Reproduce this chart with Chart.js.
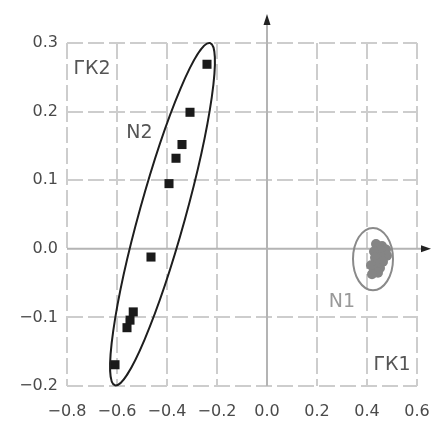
<!DOCTYPE html>
<html>
<head>
<meta charset="utf-8">
<script src="https://cdn.jsdelivr.net/npm/chart.js@4.4.1/dist/chart.umd.min.js"></script>
<style>
  html, body { margin: 0; padding: 0; background: #fff; }
  #wrap { width: 432px; height: 421px; }
</style>
</head>
<body>
<div id="wrap"><canvas id="chart"></canvas></div>
<script>
// group N2 (black squares)
const n2X = [-0.24, -0.308, -0.34, -0.364, -0.392, -0.464, -0.535, -0.548, -0.56, -0.608];
const n2Y = [0.269, 0.199, 0.152, 0.132, 0.095, -0.012, -0.092, -0.104, -0.115, -0.169];

// group N1 (grey cluster)
const n1X = [0.436, 0.46, 0.476, 0.452, 0.428, 0.48, 0.456, 0.432, 0.464, 0.44, 0.416, 0.452, 0.428, 0.444, 0.42];
const n1Y = [0.007, 0.004, -0.001, -0.003, -0.004, -0.010, -0.012, -0.013, -0.019, -0.022, -0.024, -0.028, -0.031, -0.035, -0.037];

// ellipses: N2 given by its two tips, N1 by centre and radii (data units)
const n2Tips = [[-0.228, 0.300], [-0.608, -0.199]];
const n1Centre = [0.424, -0.015];
const n1Radii = [0.08, 0.0455];

const xTicks = [-0.8, -0.6, -0.4, -0.2, 0.0, 0.2, 0.4, 0.6];
const yTicks = [-0.2, -0.1, 0.0, 0.1, 0.2, 0.3];

// text labels placed at data positions
const labels = [
    { text: 'ГК2', x: -0.70, y: 0.262, color: '#555' },
    { text: 'N2', x: -0.51, y: 0.168, color: '#555' },
    { text: 'N1', x: 0.30, y: -0.077, color: '#999' },
    { text: 'ГК1', x: 0.50, y: -0.170, color: '#555' }
];

function fmt(v) {
    if (Math.abs(v) < 1e-9) return '0.0';
    return v.toFixed(1).replace('-', '\u2212');
}

const extras = {
    id: 'extras',
    beforeDatasetsDraw(chart) {
        const ctx = chart.ctx, xs = chart.scales.x, ys = chart.scales.y;
        const x0 = xs.getPixelForValue(0), y0 = ys.getPixelForValue(0);
        const a = chart.chartArea;
        ctx.save();
        ctx.strokeStyle = '#b4b4b4';
        ctx.lineWidth = 2;
        ctx.beginPath();
        ctx.moveTo(x0, a.bottom); ctx.lineTo(x0, 20);
        ctx.moveTo(a.left, y0); ctx.lineTo(426, y0);
        ctx.stroke();
        ctx.fillStyle = '#222';
        ctx.beginPath();
        ctx.moveTo(x0, 14); ctx.lineTo(x0 - 3.5, 25); ctx.lineTo(x0 + 3.5, 25); ctx.closePath();
        ctx.fill();
        ctx.beginPath();
        ctx.moveTo(431, y0); ctx.lineTo(421, y0 - 3.5); ctx.lineTo(421, y0 + 3.5); ctx.closePath();
        ctx.fill();
        ctx.restore();
    },
    afterDatasetsDraw(chart) {
        const ctx = chart.ctx, xs = chart.scales.x, ys = chart.scales.y;
        ctx.save();
        // N2 ellipse
        const p1 = [xs.getPixelForValue(n2Tips[0][0]), ys.getPixelForValue(n2Tips[0][1])];
        const p2 = [xs.getPixelForValue(n2Tips[1][0]), ys.getPixelForValue(n2Tips[1][1])];
        const cx = (p1[0] + p2[0]) / 2, cy = (p1[1] + p2[1]) / 2;
        const len = Math.hypot(p1[0] - p2[0], p1[1] - p2[1]) / 2;
        const ang = Math.atan2(p1[1] - p2[1], p1[0] - p2[0]);
        ctx.strokeStyle = '#1e1e1e';
        ctx.lineWidth = 2;
        ctx.beginPath();
        ctx.ellipse(cx, cy, len, 23, ang, 0, Math.PI * 2);
        ctx.stroke();
        // N1 ellipse
        const c1x = xs.getPixelForValue(n1Centre[0]), c1y = ys.getPixelForValue(n1Centre[1]);
        const rx = Math.abs(xs.getPixelForValue(n1Centre[0] + n1Radii[0]) - c1x);
        const ry = Math.abs(ys.getPixelForValue(n1Centre[1] + n1Radii[1]) - c1y);
        ctx.strokeStyle = '#8a8a8a';
        ctx.beginPath();
        ctx.ellipse(c1x, c1y, rx, ry, 0, 0, Math.PI * 2);
        ctx.stroke();
        // text labels
        ctx.font = '19px "DejaVu Sans"';
        ctx.textAlign = 'center';
        ctx.textBaseline = 'middle';
        labels.forEach(l => {
            const px = xs.getPixelForValue(l.x), py = ys.getPixelForValue(l.y);
            const w = ctx.measureText(l.text).width;
            ctx.fillStyle = '#fff';
            ctx.fillRect(px - w / 2 - 2, py - 10, w + 4, 20);
            ctx.fillStyle = l.color;
            ctx.fillText(l.text, px, py);
        });
        ctx.restore();
    }
};

const gridOpts = {
    color: (c) => (c.tick && Math.abs(c.tick.value) < 1e-9) ? 'rgba(0,0,0,0)' : '#cdcdcd',
    lineWidth: 2,
    drawTicks: false
};

new Chart(document.getElementById('chart'), {
    type: 'scatter',
    data: {
        datasets: [
            {
                label: 'N1',
                data: n1X.map((x, i) => ({ x: x, y: n1Y[i] })),
                backgroundColor: '#858585',
                borderWidth: 0,
                pointStyle: 'circle',
                pointRadius: 5
            },
            {
                label: 'N2',
                data: n2X.map((x, i) => ({ x: x, y: n2Y[i] })),
                backgroundColor: '#1a1a1a',
                borderWidth: 0,
                pointStyle: 'rect',
                pointRadius: 6.4
            }
        ]
    },
    options: {
        responsive: true,
        maintainAspectRatio: false,
        animation: false,
        events: [],
        layout: { padding: { top: 43, right: 15, left: 0, bottom: 0 } },
        plugins: { legend: { display: false }, tooltip: { enabled: false } },
        scales: {
            x: {
                type: 'linear',
                min: xTicks[0],
                max: xTicks[xTicks.length - 1],
                afterBuildTicks: (s) => { s.ticks = xTicks.map(v => ({ value: v })); },
                afterFit: (s) => { s.height = 35; s.paddingLeft = 0; s.paddingRight = 0; },
                grid: gridOpts,
                border: { display: false, dash: [16, 5] },
                ticks: {
                    padding: 16,
                    color: '#4a4a4a',
                    font: { family: 'DejaVu Sans', size: 16 },
                    maxRotation: 0,
                    callback: (v) => fmt(v)
                }
            },
            y: {
                type: 'linear',
                min: yTicks[0],
                max: yTicks[yTicks.length - 1],
                afterBuildTicks: (s) => { s.ticks = yTicks.map(v => ({ value: v })); },
                afterFit: (s) => { s.width = 67; s.paddingTop = 0; s.paddingBottom = 0; },
                grid: gridOpts,
                border: { display: false, dash: [16, 5] },
                ticks: {
                    padding: 9,
                    color: '#4a4a4a',
                    font: { family: 'DejaVu Sans', size: 16 },
                    callback: (v) => fmt(v)
                }
            }
        }
    },
    plugins: [extras]
});
</script>
</body>
</html>
